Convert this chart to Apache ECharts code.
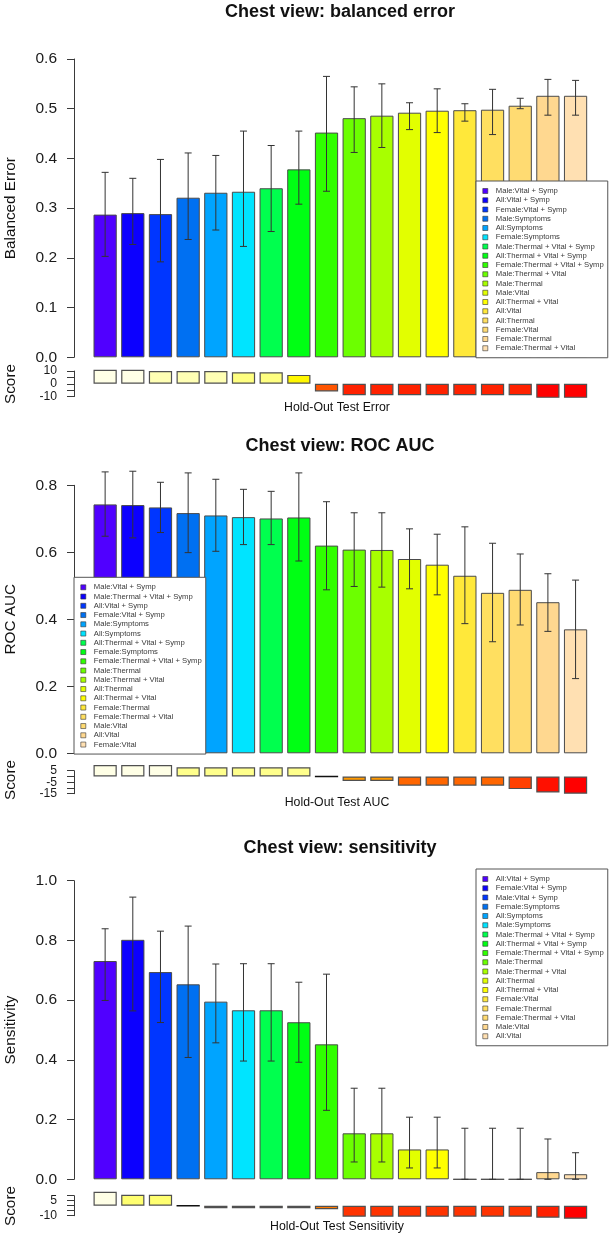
<!DOCTYPE html>
<html><head><meta charset="utf-8">
<script src="https://cdn.jsdelivr.net/npm/echarts@6/dist/echarts.min.js"></script>
<style>html,body{margin:0;padding:0;background:#fff}#c{width:612px;height:1236px}</style>
</head><body><div id="c"></div>
<script>
// ---------- data ----------
const barColors = ['#5000FF','#0C00FF','#0036FF','#0070F2','#00A4FF','#00E4FF','#00FF4E','#00FF14','#30FF00','#6CFF00','#A8FF00','#E2FF00','#FFFF00','#FFE83A','#FFDF60','#FFDB72','#FFD890','#FFE0B2'];

const errCats = ['Male:Vital + Symp','All:Vital + Symp','Female:Vital + Symp','Male:Symptoms','All:Symptoms','Female:Symptoms','Male:Thermal + Vital + Symp','All:Thermal + Vital + Symp','Female:Thermal + Vital + Symp','Male:Thermal + Vital','Male:Thermal','Male:Vital','All:Thermal + Vital','All:Vital','All:Thermal','Female:Vital','Female:Thermal','Female:Thermal + Vital'];
const errMean = [0.287,0.290,0.288,0.321,0.331,0.333,0.340,0.378,0.452,0.481,0.486,0.492,0.496,0.497,0.498,0.506,0.526,0.526];
const errHi   = [0.372,0.360,0.398,0.411,0.406,0.455,0.426,0.455,0.565,0.544,0.550,0.512,0.540,0.510,0.539,0.521,0.559,0.557];
const errLo   = [0.203,0.227,0.192,0.237,0.256,0.223,0.253,0.308,0.334,0.412,0.422,0.458,0.452,0.475,0.448,0.500,0.487,0.487];
const errScore = [11,11,10,10,10,9,9,7,-6,-9,-9,-9,-9,-9,-9,-9,-11,-11];
const errScoreColors = ['#FFFFE6','#FFFFE6','#FFFFB4','#FFFFB4','#FFFFB4','#FFFF80','#FFFF80','#FFF700','#FF5500','#FF2200','#FF2200','#FF2200','#FF2200','#FF2200','#FF2200','#FF2200','#FF0000','#FF0000'];

const aucCats = ['Male:Vital + Symp','Male:Thermal + Vital + Symp','All:Vital + Symp','Female:Vital + Symp','Male:Symptoms','All:Symptoms','All:Thermal + Vital + Symp','Female:Symptoms','Female:Thermal + Vital + Symp','Male:Thermal','Male:Thermal + Vital','All:Thermal','All:Thermal + Vital','Female:Thermal','Female:Thermal + Vital','Male:Vital','All:Vital','Female:Vital'];
const aucMean = [0.743,0.741,0.734,0.717,0.710,0.705,0.701,0.704,0.620,0.608,0.607,0.580,0.563,0.530,0.479,0.488,0.451,0.370];
const aucHi   = [0.840,0.842,0.809,0.837,0.818,0.788,0.782,0.837,0.751,0.718,0.718,0.670,0.654,0.676,0.627,0.595,0.536,0.517];
const aucLo   = [0.648,0.643,0.659,0.599,0.603,0.623,0.623,0.574,0.488,0.498,0.496,0.491,0.473,0.387,0.333,0.383,0.364,0.223];
const aucScore = [10,10,10,8,8,8,8,8,0,-4,-4,-8,-8,-8,-8,-11,-14,-15];
const aucScoreColors = ['#FFFFE6','#FFFFE6','#FFFFE6','#FFFF8C','#FFFF8C','#FFFF8C','#FFFF8C','#FFFF8C','#FFFF40','#FF9900','#FF9900','#FF6600','#FF6600','#FF6600','#FF6600','#FF4000','#FF1000','#FF0000'];

const sensCats = ['All:Vital + Symp','Female:Vital + Symp','Male:Vital + Symp','Female:Symptoms','All:Symptoms','Male:Symptoms','Male:Thermal + Vital + Symp','All:Thermal + Vital + Symp','Female:Thermal + Vital + Symp','Male:Thermal','Male:Thermal + Vital','All:Thermal','All:Thermal + Vital','Female:Vital','Female:Thermal','Female:Thermal + Vital','Male:Vital','All:Vital'];
const sensMean = [0.731,0.802,0.694,0.653,0.595,0.566,0.566,0.526,0.452,0.154,0.154,0.100,0.100,0,0,0,0.024,0.017];
const sensHi   = [0.839,0.945,0.831,0.848,0.721,0.722,0.722,0.660,0.687,0.305,0.305,0.208,0.208,0.171,0.171,0.171,0.135,0.089];
const sensLo   = [0.599,0.564,0.525,0.408,0.457,0.396,0.396,0.392,0.231,0.058,0.058,0.038,0.038,0,0,0,0,0];
const sensScore = [14,11,11,0,-2.5,-2.5,-2.5,-2.5,-3.5,-11,-11,-11,-11,-11,-11,-11,-12,-13];
const sensScoreColors = ['#FFFFE6','#FFFF70','#FFFF70','#FFFF40','#D97000','#D97000','#D97000','#D97000','#FF7A00','#FF3300','#FF3300','#FF3300','#FF3300','#FF3300','#FF3300','#FF3300','#FF2000','#FF0000'];

const titles = ['Chest view: balanced error','Chest view: ROC AUC','Chest view: sensitivity'];
const yTitles = ['Balanced Error','ROC AUC','Sensitivity'];
const xTitles = ['Hold-Out Test Error','Hold-Out Test AUC','Hold-Out Test Sensitivity'];
const mainAxes = [{min:0,max:0.6,interval:0.1},{min:0,max:0.8,interval:0.2},{min:0,max:1.0,interval:0.2}];
const scoreAxes = [{min:-10,max:10,interval:5,labels:[10,0,-10]},{min:-15,max:5,interval:5,labels:[5,-5,-15]},{min:-10,max:10,interval:5,labels:[5,-10]}];

// ---------- layout ----------
const FONT = '"Liberation Sans", Arial, Helvetica, sans-serif';
const GL = 91.3, GW = 498.1, AXX = 74;
const mainGrid = [{top:59,h:298.3},{top:485.3,h:268},{top:880.7,h:298.6}];
const scoreGrid = [{top:371.05,h:25.5},{top:770.7,h:23},{top:1195.7,h:20}];
const titleY = [12.5,446,848.5];
const xTitleY = [407.5,803,1226.5];
const scoreY = [384,780,1206];
const legendPos = [{left:476,top:181},{left:74,top:577.3},{left:476,top:869}];

const panels = [
  {cats:errCats, mean:errMean, hi:errHi, lo:errLo, score:errScore, sc:errScoreColors},
  {cats:aucCats, mean:aucMean, hi:aucHi, lo:aucLo, score:aucScore, sc:aucScoreColors},
  {cats:sensCats, mean:sensMean, hi:sensHi, lo:sensLo, score:sensScore, sc:sensScoreColors}
];

const grid = [], xAxis = [], yAxis = [], series = [], legend = [], graphic = [];
const axisCol = '#3a3a3a';

function txt(text, x, y, size, bold, rot){
  return {type:'text', x:x, y:y, rotation:rot||0, z:20,
    style:{text:text, font:(bold?'bold ':'')+size+'px '+FONT, fill:'#111',
      textAlign:'center', textVerticalAlign:'middle', align:'center', verticalAlign:'middle'}};
}

panels.forEach((p, k) => {
  const gi = k*2, gs = k*2+1;
  grid.push({left:GL, width:GW, top:mainGrid[k].top, height:mainGrid[k].h, containLabel:false});
  grid.push({left:GL, width:GW, top:scoreGrid[k].top, height:scoreGrid[k].h, containLabel:false});
  [gi, gs].forEach(g => xAxis.push({type:'category', gridIndex:g, data:p.cats, show:false, axisLine:{onZero:false}}));
  const ma = mainAxes[k];
  yAxis.push({type:'value', gridIndex:gi, min:ma.min, max:ma.max, interval:ma.interval, offset:GL-AXX,
    axisLine:{show:true, lineStyle:{color:axisCol, width:1}},
    axisTick:{show:true, length:7, lineStyle:{color:axisCol, width:1}},
    axisLabel:{show:true, margin:17, fontSize:15.5, fontFamily:FONT, color:'#1a1a1a', formatter:v=>v.toFixed(1)},
    splitLine:{show:false}});
  const sa = scoreAxes[k];
  yAxis.push({type:'value', gridIndex:gs, min:sa.min, max:sa.max, interval:sa.interval, offset:GL-AXX,
    axisLine:{show:true, lineStyle:{color:axisCol, width:1}},
    axisTick:{show:true, length:7, lineStyle:{color:axisCol, width:1}},
    axisLabel:{show:true, margin:17, fontSize:12.2, fontFamily:FONT, color:'#1a1a1a',
      formatter:v=> sa.labels.indexOf(v) >= 0 ? String(v) : ''},
    splitLine:{show:false}});

  series.push({type:'bar', xAxisIndex:gi, yAxisIndex:gi, barCategoryGap:'16%', z:2,
    data:p.mean.map((v,i)=>({value:v, itemStyle:{color:barColors[i]}})),
    itemStyle:{borderColor:'#4a4a4a', borderWidth:1}, silent:true});
  series.push({type:'custom', xAxisIndex:gi, yAxisIndex:gi, clip:false, z:3, silent:true,
    encode:{x:0, y:[1,2]},
    data:p.lo.map((l,i)=>[i, l, p.hi[i]]),
    renderItem:function(params, api){
      const a = api.coord([api.value(0), api.value(2)]);
      const b = api.coord([api.value(0), api.value(1)]);
      const hw = 3.5, st = {stroke:'#333', lineWidth:1};
      return {type:'group', children:[
        {type:'line', shape:{x1:a[0], y1:a[1], x2:b[0], y2:b[1]}, style:st},
        {type:'line', shape:{x1:a[0]-hw, y1:a[1], x2:a[0]+hw, y2:a[1]}, style:st},
        {type:'line', shape:{x1:b[0]-hw, y1:b[1], x2:b[0]+hw, y2:b[1]}, style:st}
      ]};
    }});
  series.push({type:'bar', xAxisIndex:gs, yAxisIndex:gs, barCategoryGap:'16%', clip:false, z:2, silent:true,
    data:p.score.map((v,i)=>({value:v, itemStyle:{color:p.sc[i], borderColor: v===0 ? '#111' : '#505050', borderWidth: v===0 ? 1.5 : 1.2}}))});

  legend.push({orient:'vertical', left:legendPos[k].left, top:legendPos[k].top,
    padding:[6,4,5.5,6.5], itemWidth:5, itemHeight:5, itemGap:1.25, icon:'rect',
    borderColor:'#555', borderWidth:1, backgroundColor:'#fff', selectedMode:false, z:10,
    textStyle:{fontSize:7.7, fontFamily:FONT, color:'#3a3a3a', lineHeight:8, padding:[0,0,0,3]},
    data:p.cats.map((c,i)=>({name:c, itemStyle:{color:barColors[i], borderColor:'#333', borderWidth:0.6}}))});

  graphic.push(txt(titles[k], 340, titleY[k], 18, true));
  graphic.push(txt(yTitles[k], 11, mainGrid[k].top + mainGrid[k].h/2, 15.3, false, Math.PI/2));
  graphic.push(txt('Score', 11, scoreY[k], 15.3, false, Math.PI/2));
  graphic.push(txt(xTitles[k], 337, xTitleY[k], 12.3, false));
});

// series that carry the legend names
errCats.forEach(c => series.push({type:'line', name:c, xAxisIndex:0, yAxisIndex:0, data:[], silent:true}));

const chart = echarts.init(document.getElementById('c'), null, {renderer:'canvas'});
chart.setOption({animation:false, backgroundColor:'#fff', grid, xAxis, yAxis, series, legend, graphic});
</script></body></html>
